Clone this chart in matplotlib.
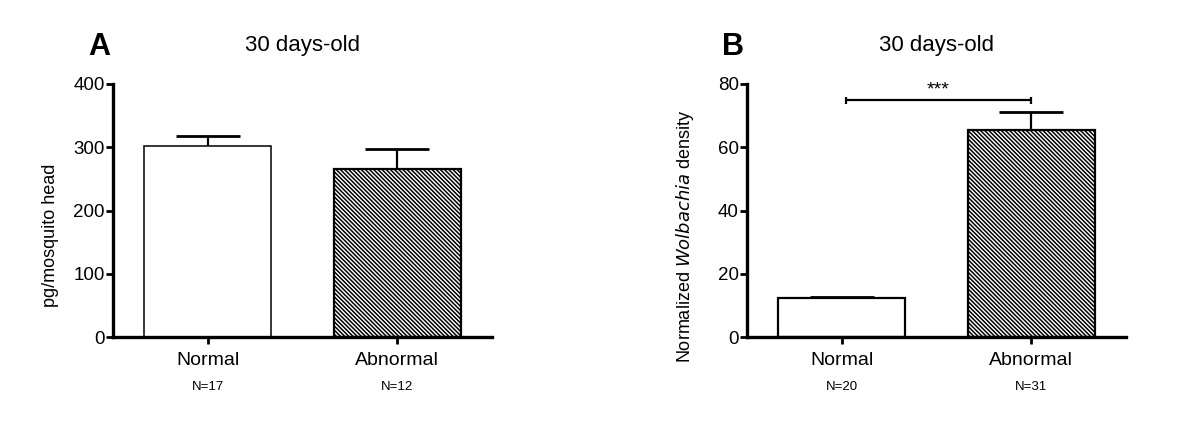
import matplotlib
matplotlib.use("Agg")
import matplotlib.pyplot as plt
from matplotlib.transforms import blended_transform_factory

plt.rcParams['font.family'] = ['Liberation Sans', 'DejaVu Sans']
plt.rcParams['hatch.linewidth'] = 1.1

categories = ["Normal", "Abnormal"]

# Panel A
a_means = [302, 265]
a_sem = [16, 32]
a_n = ["N=17", "N=12"]

# Panel B
b_means = [12.2, 65.5]
b_sem = [0.5, 5.7]
b_n = ["N=20", "N=31"]
b_sig = (0.02, 1.0, 74.8, "***")

hatches = [None, '\\\\\\\\\\\\\\\\']

fig = plt.figure(figsize=(12, 4.24), dpi=100)
axA = fig.add_axes([113/1200, 87/424, 379/1200, 253/424])
axB = fig.add_axes([747/1200, 87/424, 379/1200, 253/424])


def draw(ax, means, sem, ns, ymax, step, title, letter, letter_x, edge_lw):
    xs = list(range(len(categories)))
    for x, m, h, lw in zip(xs, means, hatches, edge_lw):
        ax.bar(x, m, width=0.67, facecolor='white', edgecolor='black',
               linewidth=lw, hatch=h, zorder=2)
    for x, m, e in zip(xs, means, sem):
        ax.vlines(x, m, m + e, color='black', linewidth=1.6, zorder=3)
        ax.hlines(m + e, x - 0.17, x + 0.17, color='black', linewidth=2.0, zorder=3)
    ax.set_xlim(-0.5, 1.5)
    ax.set_ylim(0, ymax)
    ax.set_yticks(range(0, ymax + 1, step))
    ax.set_xticks(xs)
    ax.set_xticklabels(categories, fontsize=14)
    for s in ['top', 'right']:
        ax.spines[s].set_visible(False)
    for s in ['left', 'bottom']:
        ax.spines[s].set_linewidth(2.4)
    ax.tick_params(axis='y', length=5, width=2, labelsize=13.5, pad=1)
    ax.tick_params(axis='x', length=5, width=2, pad=6)
    tr = blended_transform_factory(ax.transData, ax.transAxes)
    for x, n in zip(xs, ns):
        ax.text(x, -0.198, n, transform=tr, ha='center', va='center', fontsize=9.5)
    ax.set_title(title, fontsize=16, pad=24)
    fig.text(letter_x, 1 - 47/424, letter, fontsize=22, fontweight='bold',
             ha='center', va='center')
    return ax


draw(axA, a_means, a_sem, a_n, 400, 100, "30 days-old", "A", 99/1200, [1.1, 1.6])
axA.set_ylabel("pg/mosquito head", fontsize=13, va='center')
axA.yaxis.set_label_coords(-0.165, 0.40)

draw(axB, b_means, b_sem, b_n, 80, 20, "30 days-old", "B", 733/1200, [1.6, 1.6])
axB.set_ylabel("Normalized $\\it{Wolbachia}$ density", fontsize=13, va='center')
axB.yaxis.set_label_coords(-0.164, 0.40)

x1, x2, yy, txt = b_sig
axB.hlines(yy, x1, x2, color='black', linewidth=1.6)
axB.vlines([x1, x2], yy - 1.2, yy + 1.2, color='black', linewidth=1.6)
axB.text((x1 + x2) / 2, yy + 0.6, txt, ha='center', va='bottom', fontsize=14)

fig.savefig("out.png", dpi=100)
